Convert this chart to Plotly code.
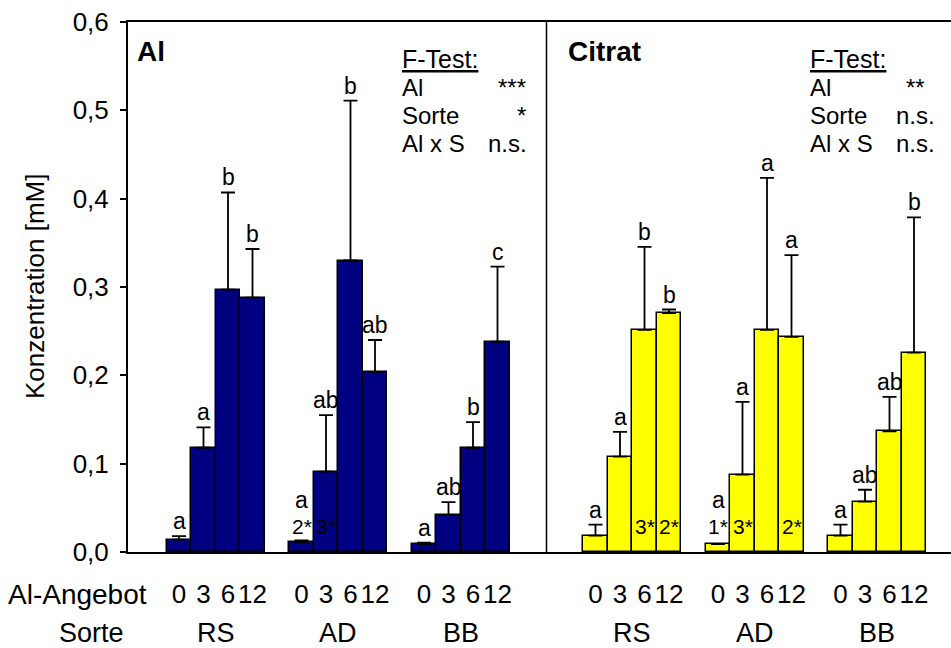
import plotly.graph_objects as go

# ---------------- data ----------------
sorten = ["RS", "AD", "BB"]
al_angebot = ["0", "3", "6", "12"]
panels = ["Al", "Citrat"]

al_mean = [0.014, 0.118, 0.297, 0.288,
           0.011, 0.091, 0.330, 0.204,
           0.009, 0.042, 0.118, 0.238]
al_sd = [0.004, 0.023, 0.110, 0.055,
         0.002, 0.064, 0.181, 0.036,
         0.0015, 0.0145, 0.029, 0.085]
al_letters = ["a", "a", "b", "b", "a", "ab", "b", "ab", "a", "ab", "b", "c"]
al_marks = ["", "", "", "", "2*", "3*", "", "", "", "", "", ""]

cit_mean = [0.0185, 0.108, 0.2515, 0.2705,
            0.009, 0.0875, 0.2515, 0.2435,
            0.0185, 0.057, 0.1367, 0.2258]
cit_sd = [0.0125, 0.028, 0.094, 0.004,
          0.0, 0.0825, 0.172, 0.0925,
          0.0125, 0.0135, 0.039, 0.153]
cit_letters = ["a", "a", "b", "b", "a", "a", "a", "a", "a", "ab", "ab", "b"]
cit_marks = ["", "", "3*", "2*", "1*", "3*", "", "2*", "", "", "", ""]

ftest_rows = ["Al", "Sorte", "Al x S"]
al_ftest = ["***", "*", "n.s."]
cit_ftest = ["**", "n.s.", "n.s."]

# ---------------- layout helpers ----------------
FONT = "Liberation Sans, Arial, sans-serif"
W, H = 951, 648
L, R, T, B = 128, 0, 22, 96
PW, PH = W - L - R, H - T - B
BIG = 26
FT = 24


def px_x(px):
    return (px - L) / PW


def px_y(py):
    return (H - B - py) / PH


def slot(panel, g, d):
    return panel * 17 + g * 5 + d


fig = go.Figure()

series = [
    (al_mean, al_sd, al_letters, al_marks, "#000080"),
    (cit_mean, cit_sd, cit_letters, cit_marks, "#FFFF00"),
]

annotations = []
tickvals, ticktext = [], []
STAR_Y = 0.0284

for p, (mean, sd, letters, marks, color) in enumerate(series):
    xs = [slot(p, g, d) for g in range(3) for d in range(4)]
    fig.add_trace(go.Bar(
        x=xs, y=mean, width=1.0,
        marker=dict(color=color, line=dict(color="black", width=1.5)),
        error_y=dict(type="data", array=sd, arrayminus=[0] * len(sd), symmetric=False,
                     color="black", thickness=1.8, width=7, visible=True),
        showlegend=False, hoverinfo="skip",
    ))
    for i, x in enumerate(xs):
        tickvals.append(x)
        ticktext.append(al_angebot[i % 4])
        top = mean[i] + sd[i]
        if marks[i]:
            annotations.append(dict(x=x, y=STAR_Y, xref="x", yref="y", text=marks[i],
                                    showarrow=False, yanchor="middle",
                                    font=dict(family=FONT, size=21, color="black")))
        shift = 0
        if marks[i] and top < STAR_Y + 0.01:
            top = STAR_Y
            shift = 12
        annotations.append(dict(x=x, y=top, xref="x", yref="y", text=letters[i],
                                showarrow=False, yanchor="bottom", yshift=shift,
                                font=dict(family=FONT, size=23, color="black")))
    # Sorte labels
    for g, s in enumerate(sorten):
        cx = (slot(p, g, 0) + slot(p, g, 3)) / 2
        annotations.append(dict(x=cx, y=px_y(633), xref="x", yref="paper", text=s,
                                showarrow=False, yanchor="middle",
                                font=dict(family=FONT, size=27, color="black")))

# panel titles
annotations.append(dict(x=px_x(135), y=px_y(52), xref="paper", yref="paper", text="<b>Al</b>",
                        showarrow=False, xanchor="left", yanchor="middle",
                        font=dict(family=FONT, size=28, color="black")))
annotations.append(dict(x=px_x(566), y=px_y(52), xref="paper", yref="paper", text="<b>Citrat</b>",
                        showarrow=False, xanchor="left", yanchor="middle",
                        font=dict(family=FONT, size=28, color="black")))

# F-Test blocks
for left, right_pos, vals in [(400, [528, 528, 529], al_ftest), (808, [927, 937, 937], cit_ftest)]:
    annotations.append(dict(x=px_x(left), y=px_y(59), xref="paper", yref="paper",
                            text="<u>F-Test:</u>", showarrow=False, xanchor="left",
                            yanchor="middle", font=dict(family=FONT, size=25, color="black")))
    for k, (row, v) in enumerate(zip(ftest_rows, vals)):
        yy = px_y(87.5 + 28 * k)
        annotations.append(dict(x=px_x(left), y=yy, xref="paper", yref="paper", text=row,
                                showarrow=False, xanchor="left", yanchor="middle",
                                font=dict(family=FONT, size=FT, color="black")))
        annotations.append(dict(x=px_x(right_pos[k]), y=yy, xref="paper", yref="paper", text=v,
                                showarrow=False, xanchor="right", yanchor="middle",
                                font=dict(family=FONT, size=FT, color="black")))

# row labels under axis
annotations.append(dict(x=px_x(6), y=px_y(594), xref="paper", yref="paper", text="Al-Angebot",
                        showarrow=False, xanchor="left", yanchor="middle",
                        font=dict(family=FONT, size=28, color="black")))
annotations.append(dict(x=px_x(57), y=px_y(633), xref="paper", yref="paper", text="Sorte",
                        showarrow=False, xanchor="left", yanchor="middle",
                        font=dict(family=FONT, size=27, color="black")))

# y-axis title
annotations.append(dict(x=px_x(35), y=0.5, xref="paper", yref="paper", text="Konzentration [mM]",
                        showarrow=False, textangle=-90, xanchor="center", yanchor="middle",
                        font=dict(family=FONT, size=BIG, color="black")))

xmin = (L - 179) / 24.5
xmax = (W - R - 179) / 24.5

fig.update_layout(
    width=W, height=H,
    margin=dict(l=L, r=R, t=T, b=B, pad=0),
    paper_bgcolor="white", plot_bgcolor="white",
    separators=",.",
    bargap=0,
    font=dict(family=FONT, size=BIG, color="black"),
    annotations=annotations,
    shapes=[dict(type="line", xref="x", yref="y", x0=15, x1=15, y0=0, y1=0.6,
                 line=dict(color="black", width=1.5))],
    xaxis=dict(range=[xmin, xmax], showgrid=False, zeroline=False,
               showline=True, linecolor="black", linewidth=2, mirror=True,
               tickmode="array", tickvals=tickvals, ticktext=ticktext,
               ticks="", ticklabelstandoff=18,
               tickfont=dict(family=FONT, size=BIG, color="black")),
    yaxis=dict(range=[0, 0.6], showgrid=False, zeroline=False,
               showline=True, linecolor="black", linewidth=2, mirror=False,
               tickmode="array", tickvals=[0, 0.1, 0.2, 0.3, 0.4, 0.5, 0.6],
               tickformat=".1f", ticks="outside", ticklen=6, tickwidth=1.5,
               tickcolor="black", ticklabelstandoff=6,
               tickfont=dict(family=FONT, size=BIG, color="black")),
)

fig.write_html("out.html")
